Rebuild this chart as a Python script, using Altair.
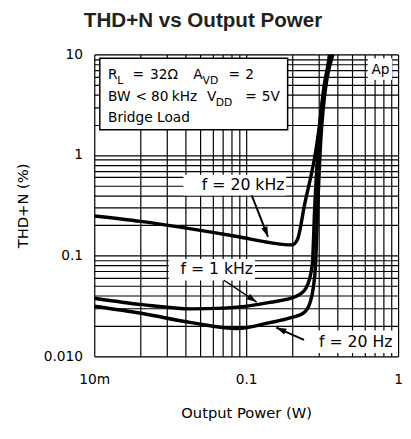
import altair as alt
import pandas as pd

# ---------------- data ----------------
# f = 20 kHz
p_20k = [0.01, 0.0202, 0.0404, 0.089, 0.1465, 0.2, 0.2175, 0.242, 0.287, 0.3185, 0.3535]
t_20k = [0.248, 0.219, 0.188, 0.154, 0.134, 0.128, 0.145, 0.318, 1.09, 3.34, 10]
# f = 1 kHz
p_1k = [0.01, 0.0207, 0.0435, 0.0714, 0.143, 0.212, 0.247, 0.272, 0.283, 0.3047, 0.364]
t_1k = [0.0378, 0.0326, 0.0296, 0.0301, 0.0344, 0.0393, 0.0473, 0.0798, 0.318, 1.906, 10]
# f = 20 Hz
p_20 = [0.01, 0.0207, 0.0435, 0.0871, 0.143, 0.1923, 0.240, 0.265, 0.276, 0.286, 0.296, 0.314, 0.3724]
t_20 = [0.0314, 0.0266, 0.0216, 0.0189, 0.0216, 0.0239, 0.0271, 0.0352, 0.0473, 0.0798, 0.318, 1.906, 10]

x_grid = [0.01, 0.02, 0.03, 0.04, 0.05, 0.06, 0.07, 0.08, 0.09,
          0.1, 0.2, 0.3, 0.4, 0.5, 0.6, 0.7, 0.8, 0.9, 1]
y_grid = [0.01, 0.02, 0.03, 0.04, 0.05, 0.06, 0.07, 0.08, 0.09,
          0.1, 0.2, 0.3, 0.4, 0.5, 0.6, 0.7, 0.8, 0.9,
          1, 2, 3, 4, 5, 6, 7, 8, 9, 10]

# annotation texts / positions in data units (W, %)
legend_box = {"P": [0.01088], "P2": [0.1875], "T": [9.14], "T2": [1.78]}
legend_text = ["R", "L", "=", "32Ω", "A", "VD", "=", "2",
               "BW", "<", "80", "kHz", "V", "DD", "=", "5V",
               "Bridge Load"]
legend_p = [0.01231, 0.01418, 0.01785, 0.02332, 0.04484, 0.05162, 0.07654, 0.0985,
            0.01231, 0.01866, 0.02366, 0.03234, 0.0552, 0.0631, 0.0985, 0.1268,
            0.01231]
legend_t = [6.248, 5.46, 6.248, 6.248, 6.248, 5.46, 6.248, 6.248,
            3.733, 3.733, 3.733, 3.733, 3.733, 3.263, 3.733, 3.733,
            2.332]
legend_size = [14, 11, 14, 14, 14, 11, 14, 14,
               14, 14, 14, 14, 14, 11, 14, 14,
               14]

label_text = ["f  =  20 kHz", "f  =  1 kHz", "f  =  20 Hz", "Ap"]
label_p = [0.0955, 0.0640, 0.5263, 0.7656]
label_t = [0.5028, 0.0732, 0.01396, 6.99]
label_size = [16, 16, 16, 14]
label_box_p = [0.03864, 0.03093, 0.2133, 0.631]
label_box_p2 = [0.1838, 0.1143, 0.956, 0.914]
label_box_t = [0.636, 0.0927, 0.01806, 9.14]
label_box_t2 = [0.3974, 0.0566, 0.01079, 5.585]

arrow_p = [0.1088, 0.07138, 0.2402]
arrow_t = [0.3974, 0.0570, 0.01454]
arrow_p2 = [0.1393, 0.1172, 0.1578]
arrow_t2 = [0.1541, 0.0346, 0.0193]
arrow_angle = [158.6, 123.7, 294.1]
arrow_width = [2, 1.5, 2]

# ---------------- tables ----------------
curves = pd.concat([
    pd.DataFrame({"P": p_20k, "T": t_20k, "f": "20 kHz"}),
    pd.DataFrame({"P": p_1k, "T": t_1k, "f": "1 kHz"}),
    pd.DataFrame({"P": p_20, "T": t_20, "f": "20 Hz"}),
], ignore_index=True)
leg_box_df = pd.DataFrame(legend_box)
leg_txt_df = pd.DataFrame({"P": legend_p, "T": legend_t, "txt": legend_text, "s": legend_size})
lab_box_df = pd.DataFrame({"P": label_box_p, "P2": label_box_p2, "T": label_box_t, "T2": label_box_t2})
lab_txt_df = pd.DataFrame({"P": label_p, "T": label_t, "txt": label_text, "s": label_size})
arr_df = pd.DataFrame({"P": arrow_p, "T": arrow_t, "P2": arrow_p2, "T2": arrow_t2,
                       "a": arrow_angle, "w": arrow_width, "i": [0, 1, 2]})
head_df = pd.DataFrame({"P": arrow_p2, "T": arrow_t2, "a": arrow_angle, "i": [0, 1, 2]})

FONT = "DejaVu Sans"

xs = alt.Scale(type="log", domain=[0.01, 1], nice=False)
ys = alt.Scale(type="log", domain=[0.01, 10], nice=False)

x_axis = alt.Axis(
    values=x_grid, grid=True, ticks=False, domain=False,
    labelExpr="datum.value < 0.0105 ? '10m' : (abs(datum.value - 0.1) < 1e-9 ? '0.1' : (abs(datum.value - 1) < 1e-9 ? '1' : ''))",
    labelOverlap=False, labelFlush=False, labelPadding=17,
    labelFont=FONT, labelFontSize=14, labelColor="#000",
    title="Output Power (W)", titleFont=FONT, titleFontSize=15, titleFontWeight="normal",
    titleColor="#000", titleY=57, titleBaseline="middle",
    gridColor="#000", gridWidth=1.2, gridOpacity=1,
)
y_axis = alt.Axis(
    values=y_grid, grid=True, ticks=False, domain=False,
    labelExpr="datum.value < 0.0105 ? '0.010' : (abs(datum.value - 0.1) < 1e-9 ? '0.1' : (abs(datum.value - 1) < 1e-9 ? '1' : (abs(datum.value - 10) < 1e-9 ? '10' : '')))",
    labelOverlap=False, labelFlush=False, labelPadding=12,
    labelFont=FONT, labelFontSize=14, labelColor="#000",
    title="THD+N (%)", titleFont=FONT, titleFontSize=15, titleFontWeight="normal",
    titleColor="#000", titleAngle=270, titleX=-73, titleY=154,
    titleBaseline="middle", titleAlign="center",
    gridColor="#000", gridWidth=1.2, gridOpacity=1,
)


def X(field="P"):
    return alt.X(f"{field}:Q", scale=xs, axis=x_axis)


def Y(field="T"):
    return alt.Y(f"{field}:Q", scale=ys, axis=y_axis)


lines = alt.Chart(curves).mark_line(
    color="#000", strokeWidth=3.5, interpolate="monotone", clip=True, strokeJoin="round"
).encode(x=X(), y=Y(), detail="f:N")

leg_box = alt.Chart(leg_box_df).mark_rect(
    fill="#fff", stroke="#000", strokeWidth=1.5
).encode(x=X(), x2="P2:Q", y=Y(), y2="T2:Q")

lab_box = alt.Chart(lab_box_df).mark_rect(fill="#fff", strokeWidth=0).encode(
    x=X(), x2="P2:Q", y=Y(), y2="T2:Q")

leg_txt = alt.Chart(leg_txt_df).mark_text(
    font=FONT, align="left", baseline="middle", color="#000"
).encode(x=X(), y=Y(), text="txt:N", size=alt.Size("s:Q", scale=None, legend=None))

lab_txt = alt.Chart(lab_txt_df).mark_text(
    font=FONT, align="center", baseline="middle", color="#000"
).encode(x=X(), y=Y(), text="txt:N", size=alt.Size("s:Q", scale=None, legend=None))

arrows = alt.Chart(arr_df).mark_rule(color="#000").encode(
    x=X(), x2="P2:Q", y=Y(), y2="T2:Q",
    strokeWidth=alt.StrokeWidth("w:Q", scale=None, legend=None),
    detail="i:N")

heads = alt.Chart(head_df).mark_point(
    shape="M0,0L-0.32,1L0.32,1Z", filled=True, color="#000", opacity=1, size=420, strokeWidth=0
).encode(x=X(), y=Y(), angle=alt.Angle("a:Q", scale=None), detail="i:N")

chart = alt.layer(lab_box, leg_box, lines, leg_txt, lab_txt, arrows, heads).properties(
    width=310, height=308,
    autosize=alt.AutoSizeParams(type="none"),
    padding={"left": 88, "top": 43, "right": 5, "bottom": 80},
    title=alt.TitleParams(
        "THD+N vs Output Power", font="Liberation Sans",
        fontSize=21, fontWeight="bold",
        color="#231f20", anchor="middle", frame="group", offset=17, dx=-44,
    ),
).configure_view(stroke="#000", strokeWidth=2).configure(background="#fff")

chart.save("out.html", embed_options={"renderer": "svg", "actions": False})
